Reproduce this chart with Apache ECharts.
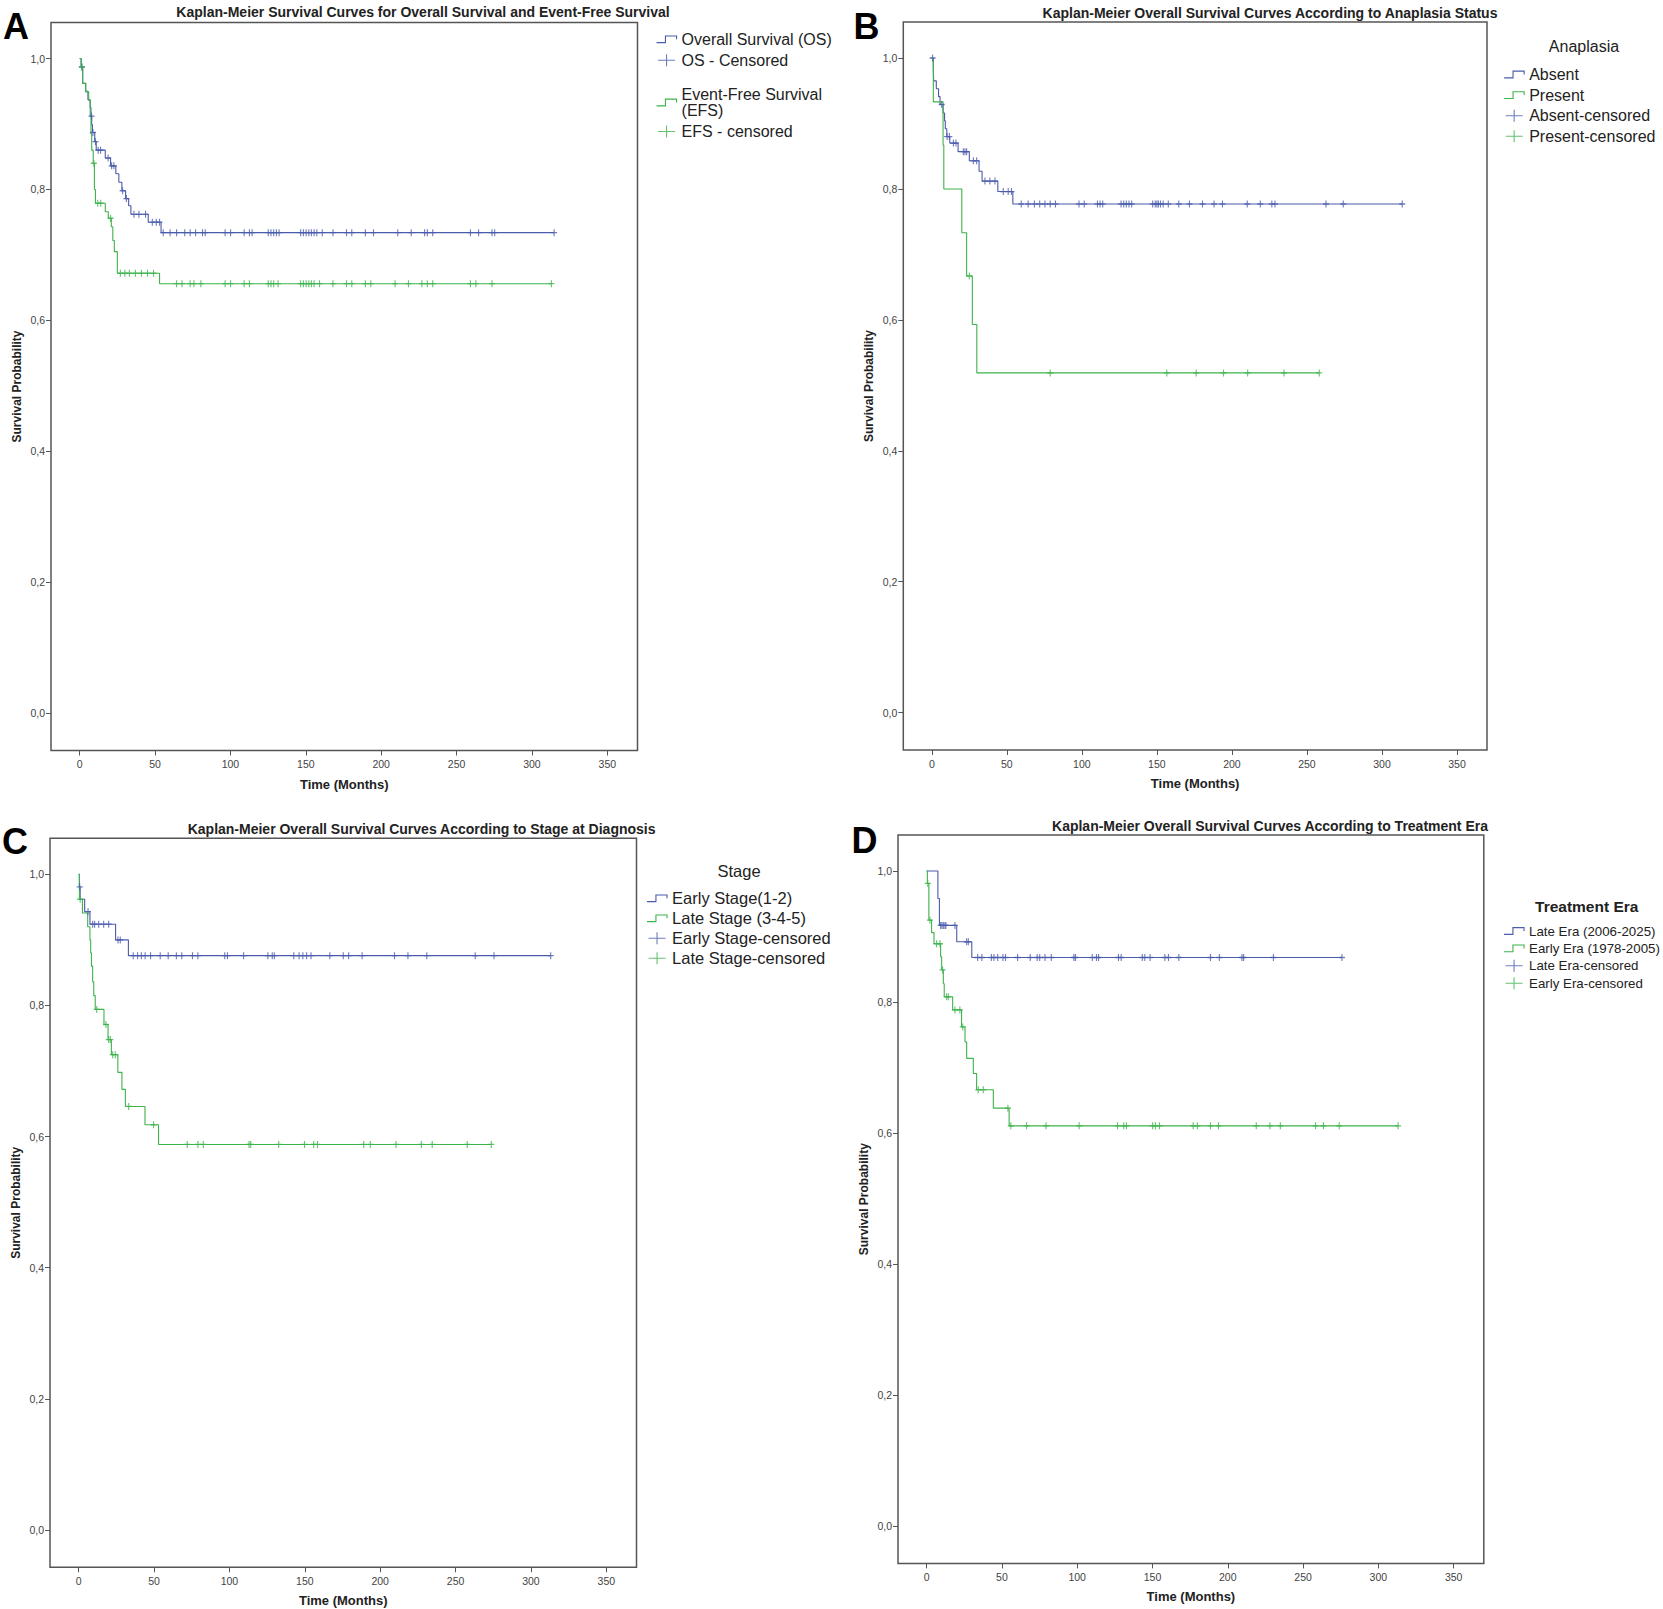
<!DOCTYPE html>
<html><head><meta charset="utf-8">
<script src="https://cdn.jsdelivr.net/npm/echarts@6/dist/echarts.min.js"></script>
<style>html,body{margin:0;padding:0;background:#fff}#c{width:1663px;height:1609px}</style>
</head><body><div id="c"></div>
<script>
// ---------- DATA ----------
const xTicks = [0, 50, 100, 150, 200, 250, 300, 350];
const yTicks = [0, 0.2, 0.4, 0.6, 0.8, 1.0];

// Panel A: Overall Survival / Event-Free Survival
const osTime = [0, 1, 2, 4, 5.5, 7, 7.5, 8, 8.5, 10, 11, 17, 20.5, 24, 26, 28, 30.5, 32.5, 34, 45.5, 54];
const osSurv = [1.0, 0.987, 0.962, 0.950, 0.937, 0.925, 0.912, 0.899, 0.887, 0.873, 0.860, 0.848, 0.836, 0.824, 0.811, 0.798, 0.786, 0.775, 0.762, 0.750, 0.734];
const osCens = [1.5, 7.9, 8.8, 10.5, 12.3, 13.9, 18.9, 21.2, 22.7, 28.5, 31, 36, 39.3, 43.7, 48.2, 50.8, 53,
  55.4, 60, 64.3, 69.7, 73.3, 76.9, 81.5, 83.3, 96.5, 100.1, 109.1, 112.6, 114.4, 125.1, 126.9, 128.7, 130.5, 132.3,
  146.6, 148.4, 150.2, 152, 153.7, 155.5, 157.3, 160.9, 168, 177, 180.5, 189.5, 194.9, 211, 219.9, 228.8, 230.6, 234.2,
  259.2, 264.6, 273.5, 275.3, 314.7];
const efsTime = [0, 1, 2, 4, 6, 7, 7.5, 8, 9, 9.8, 10.5, 17, 19, 21, 22, 23, 25, 53];
const efsSurv = [1.0, 0.987, 0.962, 0.949, 0.936, 0.911, 0.885, 0.860, 0.840, 0.800, 0.779, 0.766, 0.756, 0.743, 0.722, 0.705, 0.672, 0.656];
const efsCens = [1.5, 9.4, 12, 14, 20.5, 27, 30, 33, 37, 41, 45, 49, 64.3, 67.9, 73.3, 75.8, 80.4, 96.5, 100.1, 109.1, 112.6,
  125.1, 126.9, 128.7, 131.6, 146.6, 148.4, 150.2, 152, 153.7, 155.5, 159.1, 168, 177, 180.5, 189.5, 193.1, 209.2, 218.1,
  227, 230.6, 234.2, 259.2, 262.8, 273.5, 312.9];

// Panel B: Anaplasia
const absTime = [0, 1, 1.2, 3, 4.5, 5.5, 7.5, 8.5, 9, 10, 12, 17.5, 25, 31.5, 33.5, 44, 54];
const absSurv = [1.0, 0.988, 0.965, 0.953, 0.941, 0.929, 0.916, 0.904, 0.892, 0.880, 0.870, 0.857, 0.843, 0.827, 0.812, 0.796, 0.777];
const absCens = [0.5, 6.6, 10.2, 11.7, 14.4, 16.1, 21, 22.1, 23.2, 27.7, 29.9, 35.4, 38.7, 42.1, 47.6, 50.9, 53.1,
  59.6, 64.2, 68.4, 71.9, 75.4, 78.9, 82.4, 98.1, 101.6, 110.4, 112.1, 113.9, 126.1, 127.9, 129.6, 131.4, 133.2,
  147.2, 148.9, 150, 151, 152.4, 154.2, 157.6, 164.6, 171.7, 180.4, 188.1, 193.7, 210.2, 218.9, 226.6, 228.7, 262.7, 274.2, 313.5];
const preTime = [0, 1, 7.5, 8, 20, 23.2, 27, 30];
const preSurv = [1.0, 0.933, 0.867, 0.800, 0.733, 0.667, 0.593, 0.519];
const preCens = [25, 78.9, 156.6, 176.2, 194.4, 210.5, 234.7, 258.2];

// Panel C: Stage
const earlyStTime = [0, 0.5, 1, 4, 7.5, 24.5, 33];
const earlyStSurv = [1.0, 0.981, 0.962, 0.943, 0.924, 0.900, 0.876];
const earlyStCens = [0.7, 6.2, 9.3, 10.6, 13.3, 16.6, 19.9, 26.1, 27.6, 36.2, 39.1, 41.6, 44.1, 47.7, 54.1, 59.4, 64.8, 68.4,
  75.5, 79.1, 96.9, 98.7, 109.4, 125.5, 128.4, 129.8, 142.7, 146.2, 148.7, 151.2, 154.1, 166.6, 175.5, 179.1, 188, 209.5,
  218.4, 230.9, 263, 275.5, 313.1];
const lateStTime = [0, 0.5, 2.5, 6, 7.5, 8, 8.5, 9.3, 10, 11, 16.8, 19.5, 21.7, 26, 28.7, 31, 44, 53];
const lateStSurv = [1.0, 0.962, 0.941, 0.920, 0.900, 0.880, 0.860, 0.836, 0.815, 0.794, 0.771, 0.748, 0.725, 0.698, 0.672, 0.646, 0.618, 0.588];
const lateStCens = [1, 12, 18.1, 19.9, 21, 22.6, 24.3, 33.2, 49.7, 72, 79.1, 82.7, 113, 114.1, 132.7, 149.8, 155.9, 158.4,
  189.1, 193.4, 210.5, 227.3, 234.5, 257.7, 273.7];

// Panel D: Treatment Era
const lateEraTime = [0, 7.5, 8.5, 20, 30];
const lateEraSurv = [1.0, 0.958, 0.917, 0.892, 0.868];
const lateEraCens = [9.3, 10.2, 11.1, 12.2, 12.8, 18.8, 26.6, 27.7, 33.9, 36.7, 43, 44.7, 47.2, 50.7, 52.4, 60.4, 68.8, 73.4,
  75.1, 78.6, 82.8, 97.8, 98.8, 110, 112.8, 114.2, 127.4, 129.2, 143.2, 144.9, 148.4, 158.2, 160.6, 167.5, 188.5, 194.4,
  209.4, 210.5, 230.3, 275.8];
const earlyEraTime = [0, 0.5, 1.5, 3.3, 4.9, 9.3, 10, 11.1, 11.7, 17.3, 23.2, 25.5, 26.6, 31, 33.2, 44.3, 54.8];
const earlyEraSurv = [1.0, 0.981, 0.925, 0.906, 0.889, 0.869, 0.849, 0.828, 0.808, 0.788, 0.762, 0.739, 0.714, 0.691, 0.666, 0.638, 0.611];
const earlyEraCens = [0.8, 2.2, 6.6, 8.9, 10.6, 13.3, 14.4, 18.8, 22.1, 24, 34.3, 37.6, 54, 55.9, 66.4, 79.3, 101.3, 126.8,
  130.9, 132.7, 150.1, 151.9, 154.6, 177, 179.8, 188.5, 193.8, 218.9, 228, 234.9, 258.3, 263.5, 274, 313.1];

// ---------- STYLE / LAYOUT ----------
const FONT = '"Liberation Sans", Arial, sans-serif';
const BLUE = '#4a5bab', GREEN = '#3db34c';
const STEP_ICON = 'path://M0,6 L8,6 L8,0 L18,0 L18,3';
const PLUS_ICON = 'path://M0,6 L17,6 M8.5,0 L8.5,12';
const CENS_SYM = 'path://M0,4 L8,4 M4,0 L4,8';

function kmAt(T, S, t) { let v = S[0]; for (let i = 0; i < T.length; i++) { if (T[i] <= t) v = S[i]; } return v; }
function stepData(T, S, C) {
  const d = T.map((t, i) => [t, S[i]]);
  const end = Math.max.apply(null, C);
  if (end > T[T.length - 1]) d.push([end, S[S.length - 1]]);
  return d;
}

const panels = [
  { grid: { left: 51, top: 22.5, width: 586.5, height: 728 },
    title: 'Kaplan-Meier Survival Curves for Overall Survival and Event-Free Survival', tx: 423, ty: 11.5,
    letter: 'A', lx: 16, ly: 26,
    groups: [
      { name: 'Overall Survival (OS)', cname: 'OS - Censored', T: osTime, S: osSurv, C: osCens, color: BLUE },
      { name: 'Event-Free Survival (EFS)', cname: 'EFS - censored', T: efsTime, S: efsSurv, C: efsCens, color: GREEN }
    ] },
  { grid: { left: 903.3, top: 22, width: 583.7, height: 728 },
    title: 'Kaplan-Meier Overall Survival Curves According to Anaplasia Status', tx: 1270, ty: 13,
    letter: 'B', lx: 866.5, ly: 26.5,
    groups: [
      { name: 'Absent', cname: 'Absent-censored', T: absTime, S: absSurv, C: absCens, color: BLUE },
      { name: 'Present', cname: 'Present-censored', T: preTime, S: preSurv, C: preCens, color: GREEN }
    ] },
  { grid: { left: 50, top: 838.3, width: 586.5, height: 729 },
    title: 'Kaplan-Meier Overall Survival Curves According to Stage at Diagnosis', tx: 421.6, ty: 829,
    letter: 'C', lx: 15, ly: 841,
    groups: [
      { name: 'Early Stage(1-2)', cname: 'Early Stage-censored', T: earlyStTime, S: earlyStSurv, C: earlyStCens, color: BLUE },
      { name: 'Late Stage (3-4-5)', cname: 'Late Stage-censored', T: lateStTime, S: lateStSurv, C: lateStCens, color: GREEN }
    ] },
  { grid: { left: 898, top: 835, width: 585.8, height: 728.4 },
    title: 'Kaplan-Meier Overall Survival Curves According to Treatment Era', tx: 1270, ty: 825.7,
    letter: 'D', lx: 864.5, ly: 840,
    groups: [
      { name: 'Late Era (2006-2025)', cname: 'Late Era-censored', T: lateEraTime, S: lateEraSurv, C: lateEraCens, color: BLUE },
      { name: 'Early Era (1978-2005)', cname: 'Early Era-censored', T: earlyEraTime, S: earlyEraSurv, C: earlyEraCens, color: GREEN }
    ] }
];

const grids = [], xAxes = [], yAxes = [], series = [], graphics = [];
panels.forEach((p, i) => {
  grids.push(Object.assign({ show: true, borderColor: '#555', borderWidth: 1.5, backgroundColor: 'transparent' }, p.grid));
  xAxes.push({
    type: 'value', gridIndex: i, min: -19, max: 370,
    axisLine: { show: false, onZero: false },
    axisTick: { show: true, customValues: xTicks, length: 5, lineStyle: { color: '#555', width: 1 } },
    axisLabel: { customValues: xTicks, margin: 8, fontSize: 10.5, color: '#444', fontFamily: FONT },
    splitLine: { show: false },
    name: 'Time (Months)', nameLocation: 'middle', nameGap: 27,
    nameTextStyle: { fontWeight: 'bold', fontSize: 13, color: '#222', fontFamily: FONT }
  });
  yAxes.push({
    type: 'value', gridIndex: i, min: -0.057, max: 1.055,
    axisLine: { show: false, onZero: false },
    axisTick: { show: true, customValues: yTicks, length: 5, lineStyle: { color: '#555', width: 1 } },
    axisLabel: { customValues: yTicks, margin: 6, fontSize: 10.5, color: '#444', fontFamily: FONT,
      formatter: v => v.toFixed(1).replace('.', ',') },
    splitLine: { show: false },
    name: 'Survival Probability', nameLocation: 'middle', nameGap: 28,
    nameTextStyle: { fontWeight: 'bold', fontSize: 12, color: '#222', fontFamily: FONT }
  });
  p.groups.forEach(g => {
    series.push({
      type: 'line', name: g.name, xAxisIndex: i, yAxisIndex: i, step: 'end',
      symbol: 'none', showSymbol: false, silent: true,
      data: stepData(g.T, g.S, g.C),
      lineStyle: { color: g.color, width: 1.1 }, itemStyle: { color: g.color }, z: 2
    });
  });
  p.groups.forEach(g => {
    series.push({
      type: 'scatter', name: g.cname, xAxisIndex: i, yAxisIndex: i, silent: true,
      symbol: CENS_SYM, symbolSize: [6, 7],
      data: g.C.map(t => [t, kmAt(g.T, g.S, t)]),
      itemStyle: { color: 'transparent', borderColor: g.color, borderWidth: 1.2 }, z: 3
    });
  });
  graphics.push({ type: 'text', x: p.tx, y: p.ty, silent: true,
    style: { text: p.title, font: 'bold 14px ' + FONT, fill: '#222', align: 'center', verticalAlign: 'middle' } });
  graphics.push({ type: 'text', x: p.lx, y: p.ly, silent: true,
    style: { text: p.letter, font: 'bold 36px ' + FONT, fill: '#000', align: 'center', verticalAlign: 'middle' } });
});

graphics.push({ type: 'text', x: 1584, y: 46.7, silent: true,
  style: { text: 'Anaplasia', font: '16px ' + FONT, fill: '#222', align: 'center', verticalAlign: 'middle' } });
graphics.push({ type: 'text', x: 739, y: 871, silent: true,
  style: { text: 'Stage', font: '16.5px ' + FONT, fill: '#222', align: 'center', verticalAlign: 'middle' } });
graphics.push({ type: 'text', x: 1586.7, y: 906, silent: true,
  style: { text: 'Treatment Era', font: 'bold 15.5px ' + FONT, fill: '#222', align: 'center', verticalAlign: 'middle' } });

function legItem(name, icon, color) {
  return { name: name, icon: icon, itemStyle: { color: 'transparent', borderColor: color, borderWidth: 1.1 } };
}
function legend(left, top, fontSize, lineHeight, gap, items) {
  return {
    orient: 'vertical', left: left, top: top, padding: 0, itemWidth: 20, itemHeight: 12, itemGap: gap,
    selectedMode: false, symbolKeepAspect: true,
    textStyle: { fontSize: fontSize, lineHeight: lineHeight, color: '#222', fontFamily: FONT },
    formatter: n => n === 'Event-Free Survival (EFS)' ? 'Event-Free Survival\n(EFS)' : n,
    data: items
  };
}
const gA = panels[0].groups, gB = panels[1].groups, gC = panels[2].groups, gD = panels[3].groups;
const legends = [
  legend(656, 30.8, 16, 17, 4, [legItem(gA[0].name, STEP_ICON, BLUE), legItem(gA[0].cname, PLUS_ICON, BLUE)]),
  legend(656, 86.5, 16, 16, 5, [legItem(gA[1].name, STEP_ICON, GREEN), legItem(gA[1].cname, PLUS_ICON, GREEN)]),
  legend(1503.6, 66, 16, 17, 3.6, [legItem(gB[0].name, STEP_ICON, BLUE), legItem(gB[1].name, STEP_ICON, GREEN),
    legItem(gB[0].cname, PLUS_ICON, BLUE), legItem(gB[1].cname, PLUS_ICON, GREEN)]),
  legend(646.5, 889.8, 16.5, 17, 3, [legItem(gC[0].name, STEP_ICON, BLUE), legItem(gC[1].name, STEP_ICON, GREEN),
    legItem(gC[0].cname, PLUS_ICON, BLUE), legItem(gC[1].cname, PLUS_ICON, GREEN)]),
  legend(1503.5, 923.5, 13.3, 15, 2.4, [legItem(gD[0].name, STEP_ICON, BLUE), legItem(gD[1].name, STEP_ICON, GREEN),
    legItem(gD[0].cname, PLUS_ICON, BLUE), legItem(gD[1].cname, PLUS_ICON, GREEN)])
];

const chart = echarts.init(document.getElementById('c'), null, { renderer: 'svg', width: 1663, height: 1609 });
chart.setOption({
  backgroundColor: '#fff',
  animation: false,
  grid: grids, xAxis: xAxes, yAxis: yAxes, series: series,
  legend: legends, graphic: graphics
});
</script></body></html>
